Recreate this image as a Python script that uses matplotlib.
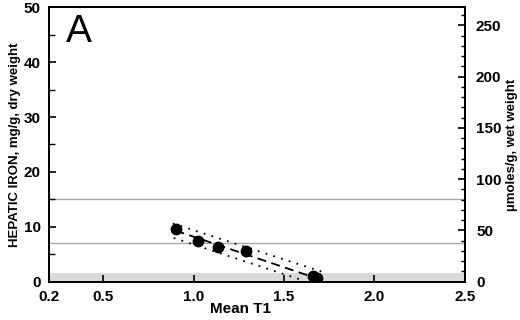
import matplotlib
matplotlib.use("Agg")
import matplotlib.pyplot as plt
from matplotlib.ticker import MultipleLocator

plt.rcParams['font.family'] = ['Liberation Sans', 'DejaVu Sans']

# data
t1 = [0.903, 1.027, 1.135, 1.291, 1.662, 1.680]
iron = [9.57, 7.46, 6.26, 5.49, 0.95, 0.65]

fit_x = [0.90, 1.68]
fit_y = [9.3, 0.6]
upper_x = [0.885, 1.71]
upper_y = [10.6, 1.8]
lower_x = [0.89, 1.60]
lower_y = [7.95, 0.27]

ref_lines = [15, 7]
normal_band = [0, 1.6]

x_ticks = [0.2, 0.5, 1.0, 1.5, 2.0, 2.5]
y_ticks = [0, 10, 20, 30, 40, 50]
right_ticks = [0, 50, 100, 150, 200, 250]
wet_factor = 5.35

fig = plt.figure(figsize=(5.2, 3.2), dpi=100)
ax = fig.add_axes([0.094, 0.12, 0.80, 0.857])

ax.axhspan(normal_band[0], normal_band[1], color='#d9d9d9', lw=0, zorder=0)
for v in ref_lines:
    ax.axhline(v, color='#a8a8a8', lw=1.0, zorder=1)

ax.plot(upper_x, upper_y, ls=(0, (1, 3.5)), color='black', lw=1.3, zorder=2)
ax.plot(lower_x, lower_y, ls=(0, (1, 3.5)), color='black', lw=1.3, zorder=2)
ax.plot(fit_x, fit_y, ls=(0, (5, 3)), color='black', lw=1.3, zorder=2)
ax.plot(t1, iron, 'o', color='black', ms=7.5, zorder=3)

ax.set_xlim(0.2, 2.5)
ax.set_ylim(0, 50)
ax.set_xticks(x_ticks)
ax.set_xticklabels(['%.1f' % v for v in x_ticks])
ax.set_yticks(y_ticks)
ax.yaxis.set_minor_locator(MultipleLocator(5))
ax.tick_params(axis='both', direction='in', labelsize=11, width=1.2)
ax.tick_params(axis='y', which='major', length=5, pad=6)
ax.tick_params(axis='y', which='minor', direction='in', length=4, width=1.0)
ax.tick_params(axis='x', length=5, pad=6)
for lab in ax.get_xticklabels() + ax.get_yticklabels():
    lab.set_fontweight('bold')
for s in ax.spines.values():
    s.set_linewidth(1.3)

ax.set_xlabel('Mean T1', fontsize=11, fontweight='bold')
ax.set_ylabel('HEPATIC IRON, mg/g, dry weight', fontsize=9.5, fontweight='bold', labelpad=2)
ax.xaxis.set_label_coords(0.46, -0.075)

ax2 = ax.twinx()
ax2.set_ylim(0, 50 * wet_factor)
ax2.set_yticks(right_ticks)
ax2.yaxis.set_minor_locator(MultipleLocator(10))
ax2.tick_params(axis='y', which='major', direction='in', length=5, width=1.2, labelsize=11, pad=8)
ax2.tick_params(axis='y', which='minor', direction='in', length=3, width=1.0)
for lab in ax2.get_yticklabels():
    lab.set_fontweight('bold')
ax2.set_ylabel('\u00b5moles/g, wet weight', fontsize=9.5, fontweight='bold', labelpad=3)
for s in ax2.spines.values():
    s.set_linewidth(1.3)

ax.text(0.04, 0.975, 'A', transform=ax.transAxes, fontsize=28, va='top', ha='left')

fig.savefig('out.png', dpi=100)
